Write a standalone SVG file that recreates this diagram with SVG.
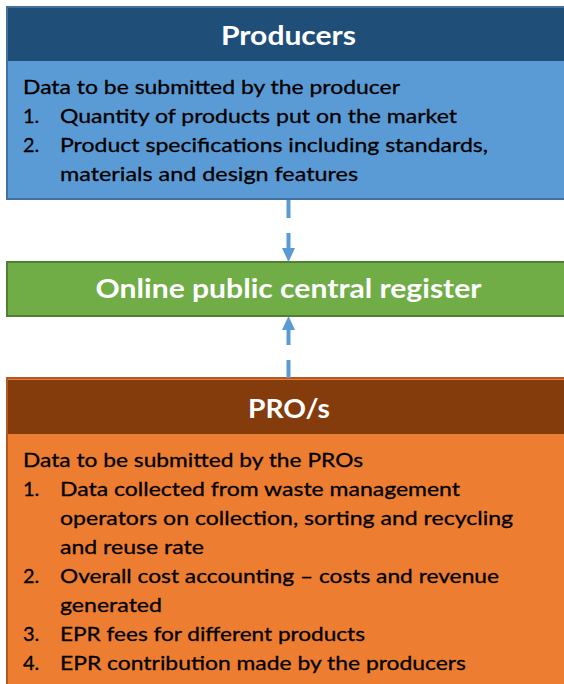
<svg xmlns="http://www.w3.org/2000/svg" width="564" height="684" viewBox="0 0 564 684">
  <style>
    .title { font-family: Lato, "Open Sans", "Liberation Sans", sans-serif; font-weight: bold; fill: #ffffff; font-size: 26px; }
    .body { font-family: Lato, "Open Sans", "Liberation Sans", sans-serif; font-size: 20px; fill: #000000; stroke: #000000; stroke-width: 0.3; }
    .conn { stroke: #5B9BD5; stroke-width: 4; fill: none; }
  </style>
  <defs>
    <marker id="arrow" markerUnits="userSpaceOnUse" markerWidth="15" markerHeight="14" refX="14" refY="6.5" orient="auto">
      <path d="M0,0 L14,6.5 L0,13 z" fill="#5B9BD5"/>
    </marker>
  </defs>
  <rect width="564" height="684" fill="#ffffff"/>

  <g id="producers">
    <rect x="7" y="7" width="570" height="192" fill="#5B9BD5" stroke="#41719C" stroke-width="2"/>
    <rect x="8" y="8" width="570" height="53" fill="#1F4E79"/>
    <text class="title" x="288.5" y="45" text-anchor="middle" textLength="135" lengthAdjust="spacingAndGlyphs">Producers</text>
    <text class="body" x="23" y="94" textLength="377" lengthAdjust="spacingAndGlyphs">Data to be submitted by the producer</text>
    <text class="body" x="23" y="123">1.</text>
    <text class="body" x="60" y="123" textLength="397" lengthAdjust="spacingAndGlyphs">Quantity of products put on the market</text>
    <text class="body" x="23" y="152">2.</text>
    <text class="body" x="60" y="152" textLength="428" lengthAdjust="spacingAndGlyphs">Product specifications including standards,</text>
    <text class="body" x="60" y="181" textLength="298" lengthAdjust="spacingAndGlyphs">materials and design features</text>
  </g>

  <g id="register">
    <rect x="7" y="262" width="570" height="54" fill="#70AD47" stroke="#507E32" stroke-width="2"/>
    <text class="title" x="288.5" y="298" text-anchor="middle" textLength="386" lengthAdjust="spacingAndGlyphs">Online public central register</text>
  </g>

  <g id="pros">
    <rect x="7" y="378" width="570" height="320" fill="#ED7D31" stroke="#AE5A21" stroke-width="2"/>
    <rect x="8" y="380" width="570" height="54" fill="#843C0C"/>
    <text class="title" x="289" y="418" text-anchor="middle" textLength="82" lengthAdjust="spacingAndGlyphs">PRO/s</text>
    <text class="body" x="23" y="467" textLength="340" lengthAdjust="spacingAndGlyphs">Data to be submitted by the PROs</text>
    <text class="body" x="23" y="496">1.</text>
    <text class="body" x="60" y="496" textLength="400" lengthAdjust="spacingAndGlyphs">Data collected from waste management</text>
    <text class="body" x="60" y="525" textLength="453" lengthAdjust="spacingAndGlyphs">operators on collection, sorting and recycling</text>
    <text class="body" x="60" y="554" textLength="144" lengthAdjust="spacingAndGlyphs">and reuse rate</text>
    <text class="body" x="23" y="583">2.</text>
    <text class="body" x="60" y="583" textLength="439" lengthAdjust="spacingAndGlyphs">Overall cost accounting – costs and revenue</text>
    <text class="body" x="60" y="612" textLength="102" lengthAdjust="spacingAndGlyphs">generated</text>
    <text class="body" x="23" y="641">3.</text>
    <text class="body" x="60" y="641" textLength="305" lengthAdjust="spacingAndGlyphs">EPR fees for different products</text>
    <text class="body" x="23" y="670">4.</text>
    <text class="body" x="60" y="670" textLength="406" lengthAdjust="spacingAndGlyphs">EPR contribution made by the producers</text>
  </g>

  <g id="connectors">
    <path class="conn" d="M288.5,200 L288.5,262" stroke-dasharray="18 15" marker-end="url(#arrow)"/>
    <path class="conn" d="M288.5,378 L288.5,316" stroke-dasharray="18 15" marker-end="url(#arrow)"/>
  </g>
</svg>
